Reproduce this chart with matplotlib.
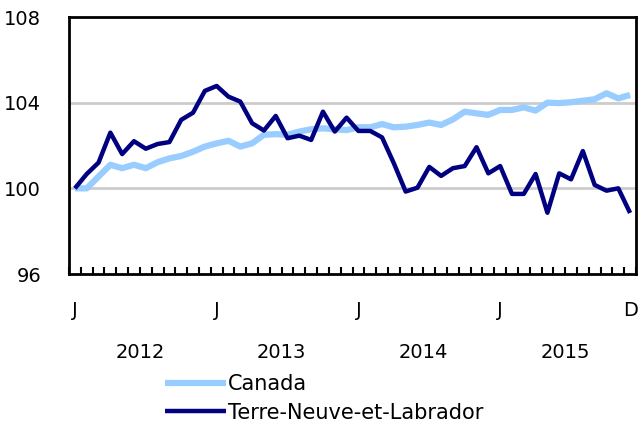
import numpy as np
import matplotlib.pyplot as plt
import matplotlib.transforms as mtransforms

# monthly index, Jan 2012 - Dec 2015
canada = [100.0, 100.0, 100.55, 101.1, 100.94, 101.1, 100.94, 101.22, 101.4, 101.51,
          101.71, 101.95, 102.1, 102.22, 101.95, 102.1, 102.5, 102.53, 102.5, 102.65,
          102.76, 102.8, 102.76, 102.72, 102.85, 102.85, 103.0, 102.85, 102.88, 102.96,
          103.07, 102.96, 103.22, 103.58, 103.5, 103.43, 103.66, 103.66, 103.78, 103.63,
          104.0, 103.98, 104.02, 104.09, 104.16, 104.44, 104.2, 104.36]
nl = [100.0, 100.67, 101.2, 102.6, 101.6, 102.2, 101.85, 102.07, 102.16, 103.2,
      103.53, 104.55, 104.78, 104.28, 104.05, 103.04, 102.7, 103.38, 102.34, 102.46,
      102.26, 103.58, 102.65, 103.3, 102.68, 102.68, 102.38, 101.17, 99.85, 100.03,
      101.0, 100.58, 100.94, 101.04, 101.92, 100.7, 101.04, 99.74, 99.74, 100.67,
      98.86, 100.7, 100.42, 101.74, 100.16, 99.89, 100.0, 98.85]
month_labels = {0: 'J', 12: 'J', 24: 'J', 36: 'J', 47: 'D'}
years = ['2012', '2013', '2014', '2015']

fig = plt.figure(figsize=(6.4, 4.28), dpi=100)
ax = fig.add_axes([69/640, 1 - 274/428, 567/640, 257/428])

x = np.arange(len(canada))
l1, = ax.plot(x, canada, color='#99CCFF', lw=4.5, label='Canada', solid_capstyle='butt')
l2, = ax.plot(x, nl, color='#000080', lw=3.2, label='Terre-Neuve-et-Labrador', solid_capstyle='butt')

ax.set_xlim(-0.5, len(canada) - 0.5)
ax.set_ylim(96, 108)
ax.set_yticks([96, 100, 104, 108])
ax.tick_params(axis='y', length=0, labelsize=14, pad=20)
for v in [100, 104]:
    ax.axhline(v, color='#CCCCCC', lw=2, zorder=0)

ax.set_xticks(np.arange(-0.5, len(canada), 1))
ax.set_xticklabels([])
ax.tick_params(axis='x', direction='in', length=5, width=1.5)

for s in ax.spines.values():
    s.set_linewidth(2)

trans = mtransforms.blended_transform_factory(ax.transData, fig.transFigure)
for i, lab in month_labels.items():
    ax.text(i, 1 - 310/428, lab, transform=trans, ha='center', va='center', fontsize=14)
for k, yr in enumerate(years):
    ax.text(12 * k + 5.5, 1 - 352/428, yr, transform=trans, ha='center', va='center', fontsize=14)

fig.legend(handles=[l1, l2], loc='upper left', bbox_to_anchor=(157/640, 1 - 366/428),
           frameon=False, fontsize=15, handlelength=2.9, handletextpad=0.1,
           labelspacing=0.4, borderaxespad=0)

fig.savefig('out.png', dpi=100)
